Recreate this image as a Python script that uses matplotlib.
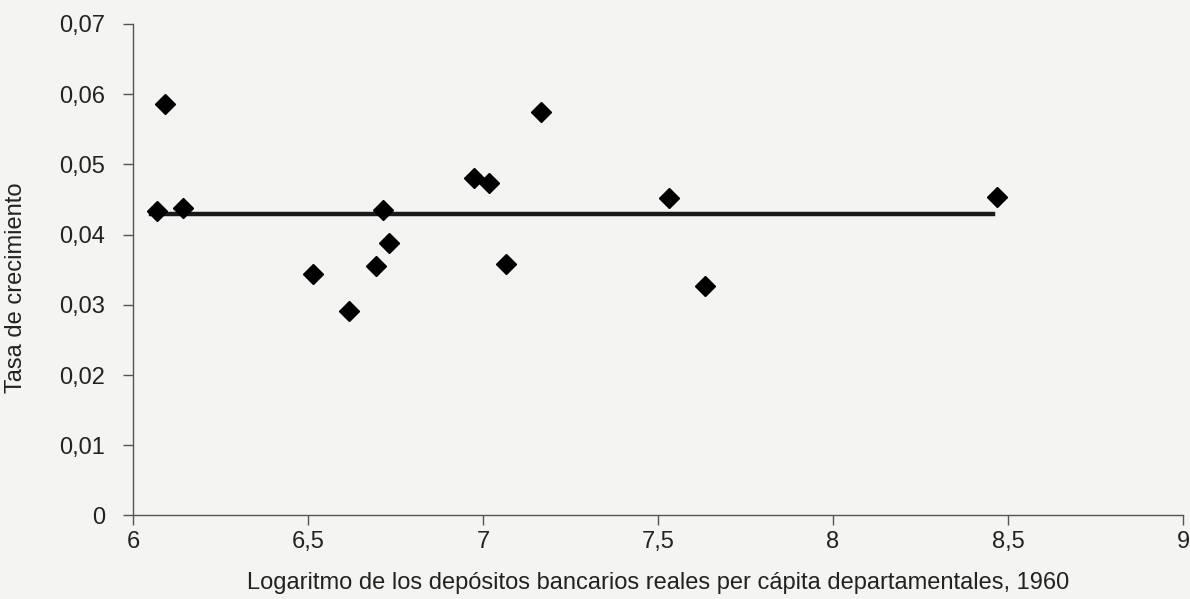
import matplotlib.pyplot as plt

# datos
x_vals = [6.069, 6.091, 6.143, 6.514, 6.617, 6.693, 6.714, 6.730, 6.975,
          7.017, 7.067, 7.166, 7.530, 7.635, 8.470]
y_vals = [0.0434, 0.0586, 0.0438, 0.0344, 0.0291, 0.0355, 0.0435, 0.0388,
          0.0481, 0.0473, 0.0358, 0.0575, 0.0452, 0.0327, 0.0454]

trend_x = [6.05, 8.456]
trend_y = [0.0429, 0.0429]

x_ticks = [6, 6.5, 7, 7.5, 8, 8.5, 9]
x_tick_labels = ["6", "6,5", "7", "7,5", "8", "8,5", "9"]
y_ticks = [0, 0.01, 0.02, 0.03, 0.04, 0.05, 0.06, 0.07]
y_tick_labels = ["0", "0,01", "0,02", "0,03", "0,04", "0,05", "0,06", "0,07"]

plt.rcParams['font.family'] = ['Liberation Sans', 'DejaVu Sans']

fig = plt.figure(figsize=(11.9, 5.99), dpi=100)
bg = '#f4f4f2'
fig.patch.set_facecolor(bg)
ax = fig.add_axes([0.1118, 0.1394, 0.8823, 0.8206])
ax.set_facecolor(bg)

ax.plot(trend_x, trend_y, color='#1a1a1a', linewidth=3.2, zorder=2)
ax.plot(x_vals, y_vals, linestyle='none', marker='D', markersize=10,
        color='black', zorder=3)

ax.set_xlim(6, 9)
ax.set_ylim(0, 0.07)
ax.set_xticks(x_ticks)
ax.set_xticklabels(x_tick_labels)
ax.set_yticks(y_ticks)
ax.set_yticklabels(y_tick_labels)

for side in ['top', 'right']:
    ax.spines[side].set_visible(False)
for side in ['left', 'bottom']:
    ax.spines[side].set_color('#555555')
    ax.spines[side].set_linewidth(1.0)

fs = 17
ax.tick_params(axis='both', colors='#555555', labelcolor='#222222',
               labelsize=fs, length=7, width=1.0)
ax.tick_params(axis='y', pad=13)
ax.tick_params(axis='x', pad=4)

ax.set_xlabel("Logaritmo de los depósitos bancarios reales per cápita departamentales, 1960",
              fontsize=fs, color='#222222', labelpad=14)
ax.set_ylabel("Tasa de crecimiento", fontsize=fs, color='#222222')
ax.yaxis.set_label_coords(-0.101, 0.464)

fig.savefig("out.png", dpi=100, facecolor=bg)
